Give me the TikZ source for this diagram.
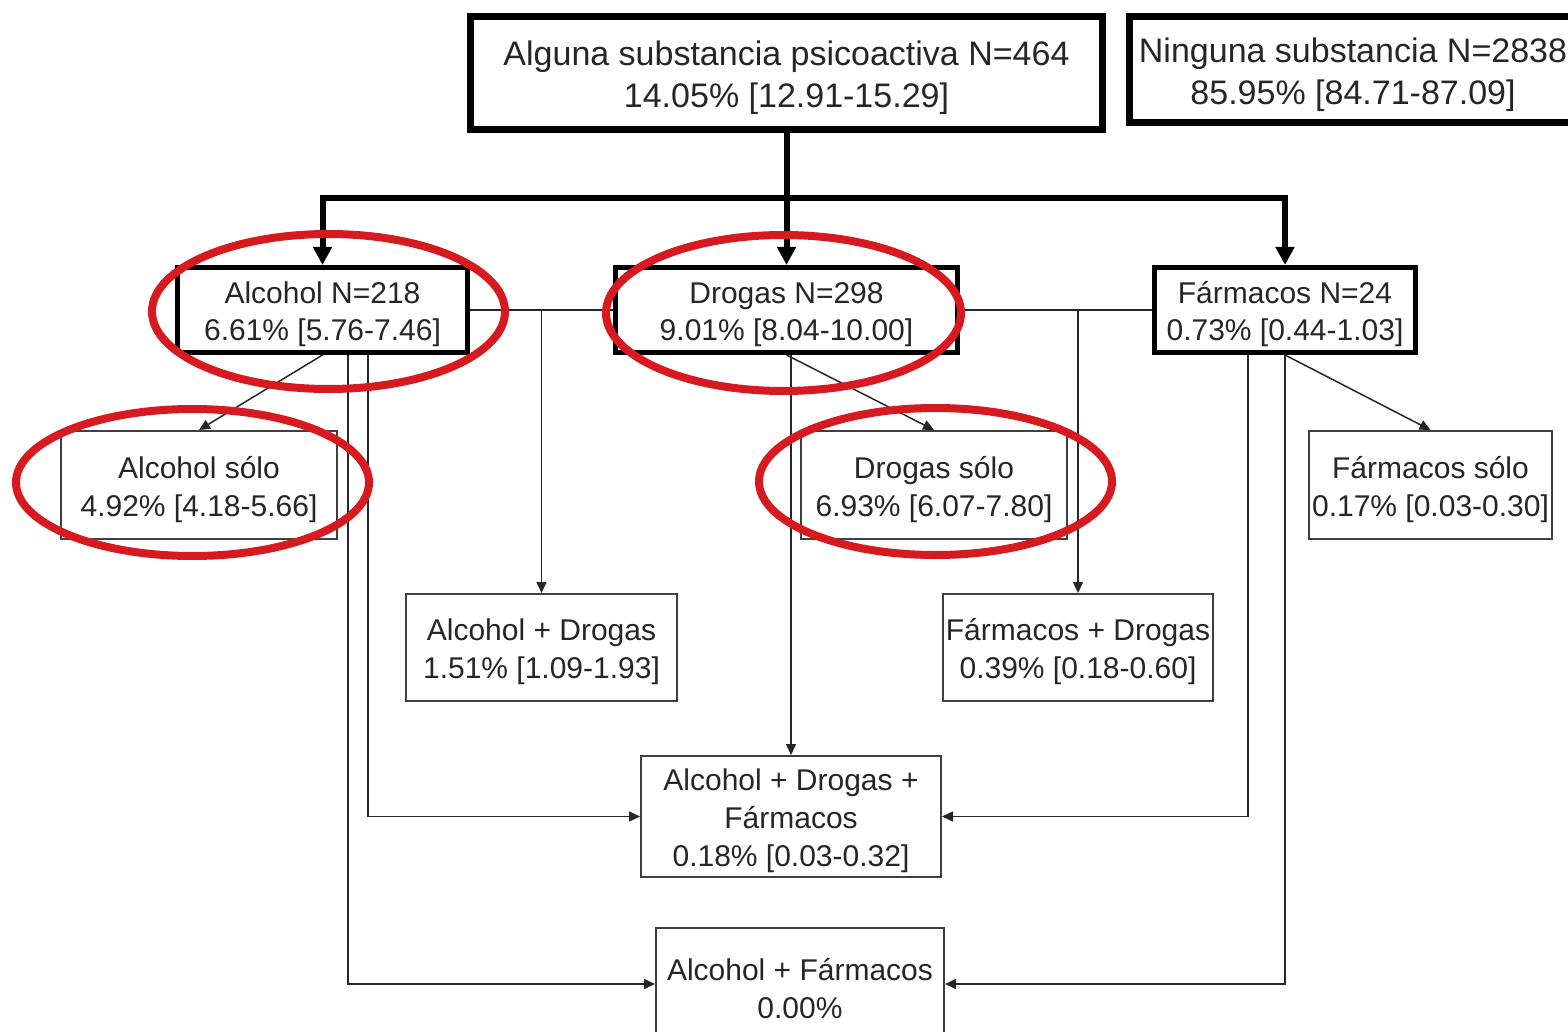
\documentclass[tikz,border=0pt]{standalone}
\usepackage{fontspec}
\setmainfont{Liberation Sans}
\usetikzlibrary{arrows.meta}
\definecolor{ringred}{RGB}{214,26,32}
% struts that set the height of the first text line in each box
\newcommand{\topstrut}{\rule{0pt}{35pt}}
\newcommand{\boxstrut}{\rule{0pt}{31pt}}
\tikzset{
  box/.style={draw, inner sep=0pt, align=center, fill=white, text=black!85},
  topbox/.style={box, line width=7pt, font=\fontsize{34}{42}\selectfont},
  midbox/.style={box, line width=5pt, font=\fontsize{30}{37}\selectfont},
  leafbox/.style={box, line width=2pt, draw=black!75, font=\fontsize{30}{38}\selectfont},
  trunk/.style={line width=6pt},
  trunkarrow/.style={trunk, -{Triangle[length=18pt,width=18pt]}},
  link/.style={line width=1.5pt, draw=black!85},
  linkarrow/.style={link, -{Triangle[length=11pt,width=10pt]}},
  ring/.style={draw=ringred, line width=8pt},
}
\begin{document}
\begin{tikzpicture}[x=1pt, y=-1pt]
\useasboundingbox (0,0) rectangle (1568,1032);
\clip (0,0) rectangle (1568,1032);
\fill[white] (0,0) rectangle (1568,1032);

% overall split
\node[topbox, minimum width=632pt, minimum height=113pt] (any) at (786.5,73)
  {\topstrut Alguna substancia psicoactiva N=464\\14.05\% [12.91-15.29]};
\node[topbox, minimum width=447pt, minimum height=106pt] (none) at (1353,69.5)
  {\topstrut Ninguna substancia N=2838\\85.95\% [84.71-87.09]};

% substance groups
\node[midbox, minimum width=290pt, minimum height=85pt] (alc) at (322.5,310)
  {\boxstrut Alcohol N=218\\6.61\% [5.76-7.46]};
\node[midbox, minimum width=342pt, minimum height=85pt] (drg) at (786.5,310)
  {\boxstrut Drogas N=298\\9.01\% [8.04-10.00]};
\node[midbox, minimum width=261pt, minimum height=85pt] (frm) at (1285,310)
  {\boxstrut Fármacos N=24\\0.73\% [0.44-1.03]};

% single-substance and combined groups
\node[leafbox, minimum width=276pt, minimum height=108pt] (alcsolo) at (199,485)
  {\boxstrut Alcohol sólo\\4.92\% [4.18-5.66]};
\node[leafbox, minimum width=266pt, minimum height=108pt] (drgsolo) at (934,485)
  {\boxstrut Drogas sólo\\6.93\% [6.07-7.80]};
\node[leafbox, minimum width=243pt, minimum height=108pt] (frmsolo) at (1430.5,485)
  {\boxstrut Fármacos sólo\\0.17\% [0.03-0.30]};
\node[leafbox, minimum width=271pt, minimum height=107pt] (alcdrg) at (541.5,647.5)
  {\boxstrut Alcohol + Drogas\\1.51\% [1.09-1.93]};
\node[leafbox, minimum width=270pt, minimum height=107pt] (frmdrg) at (1078,647.5)
  {\boxstrut Fármacos + Drogas\\0.39\% [0.18-0.60]};
\node[leafbox, minimum width=300pt, minimum height=121pt] (all) at (791,816.5)
  {\boxstrut Alcohol + Drogas +\\Fármacos\\0.18\% [0.03-0.32]};
\node[leafbox, minimum width=288pt, minimum height=112pt] (alcfrm) at (800,984)
  {\boxstrut Alcohol + Fármacos\\0.00\%};

% thick branching from the top box
\coordinate (hub) at (786.5,198);
\draw[trunk] (any.south) -- (hub);
\draw[trunkarrow] (hub) -- (drg.north);
\draw[trunkarrow] (hub) -| (alc.north);
\draw[trunkarrow] (hub) -| (frm.north);

% pairwise links
\draw[link] (alc.east) -- (drg.west);
\draw[link] (drg.east) -- (frm.west);
\coordinate (ad) at (541.5,310);
\coordinate (fd) at (1078,310);
\draw[linkarrow] (ad) -- (alcdrg.north);
\draw[linkarrow] (fd) -- (frmdrg.north);

% single-substance links
\draw[linkarrow] (alc.south) -- (alcsolo.north);
\draw[linkarrow] (drg.south) -- (drgsolo.north);
\draw[linkarrow] (frm.south) -- (frmsolo.north);

% three-substance group
\draw[linkarrow] (all.north |- drg.south) -- (all.north);
\draw[linkarrow] ([xshift=45.5pt]alc.south) |- (all.west);
\draw[linkarrow] ([xshift=-37pt]frm.south) |- (all.east);

% alcohol + medication group
\draw[linkarrow] ([xshift=25.5pt]alc.south) |- (alcfrm.west);
\draw[linkarrow] (frm.south) |- (alcfrm.east);

% highlight rings
\draw[ring] (328.5,311.5) ellipse [x radius=176.5pt, y radius=77.5pt];
\draw[ring] (783.5,313) ellipse [x radius=177.5pt, y radius=78pt];
\draw[ring] (192.5,482.5) ellipse [x radius=176.5pt, y radius=73.5pt];
\draw[ring] (935.5,481.5) ellipse [x radius=176.5pt, y radius=73.5pt];
\end{tikzpicture}
\end{document}
